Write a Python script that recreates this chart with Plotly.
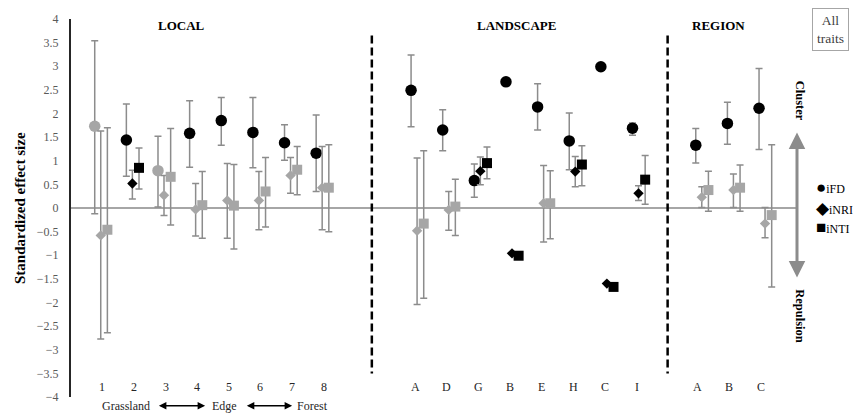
import numpy as np
import plotly.graph_objects as go

# ---------------- data ----------------
local_labels = ["1", "2", "3", "4", "5", "6", "7", "8"]
landscape_labels = ["A", "D", "G", "B", "E", "H", "C", "I"]
region_labels = ["A", "B", "C"]

# iFD
ifd_val = [1.73, 1.44, 0.79, 1.58, 1.85, 1.60, 1.38, 1.16,
           2.49, 1.65, 0.58, 2.67, 2.14, 1.42, 2.99, 1.69,
           1.33, 1.79, 2.11]
ifd_low = [-0.12, 0.67, 0.02, 0.86, 1.33, 0.85, 1.01, 0.35,
           1.72, 1.21, 0.23, None, 1.65, 0.81, None, 1.54,
           0.95, 1.35, 1.24]
ifd_up = [3.54, 2.20, 1.52, 2.27, 2.34, 2.34, 1.76, 1.97,
          3.24, 2.08, 0.93, None, 2.63, 2.01, None, 1.80,
          1.68, 2.24, 2.95]
ifd_sig = [0, 1, 0, 1, 1, 1, 1, 1,
           1, 1, 1, 1, 1, 1, 1, 1,
           1, 1, 1]

# iNRI
inri_val = [-0.58, 0.52, 0.27, -0.03, 0.16, 0.16, 0.69, 0.43,
            -0.48, -0.04, 0.78, -0.96, 0.10, 0.77, -1.60, 0.31,
            0.23, 0.38, -0.33]
inri_low = [-2.77, 0.19, -0.16, -0.59, -0.64, -0.46, 0.31, -0.46,
            -2.04, -0.47, 0.49, None, -0.72, 0.45, None, 0.16,
            0.01, 0.01, -0.63]
inri_up = [1.63, 0.80, 0.69, 0.52, 0.94, 0.77, 1.07, 1.30,
           1.06, 0.35, 1.08, None, 0.90, 1.09, None, 0.47,
           0.45, 0.72, 0.01]
inri_sig = [0, 1, 0, 0, 0, 0, 0, 0,
            0, 0, 1, 1, 0, 1, 1, 1,
            0, 0, 0]

# iNTI
inti_val = [-0.46, 0.85, 0.66, 0.06, 0.05, 0.35, 0.81, 0.43,
            -0.33, 0.03, 0.95, -1.01, 0.10, 0.92, -1.67, 0.60,
            0.38, 0.43, -0.15]
inti_low = [-2.64, 0.40, -0.36, -0.64, -0.87, -0.40, 0.28, -0.50,
            -1.91, -0.58, 0.62, None, -0.65, 0.47, None, 0.08,
            -0.07, -0.07, -1.67]
inti_up = [1.70, 1.27, 1.68, 0.77, 0.92, 1.07, 1.30, 1.34,
           1.21, 0.61, 1.29, None, 0.79, 1.32, None, 1.11,
           0.78, 0.91, 1.34]
inti_sig = [0, 1, 0, 0, 0, 0, 0, 0,
            0, 0, 1, 1, 0, 1, 1, 1,
            0, 0, 0]

y_ticks = [-4, -3.5, -3, -2.5, -2, -1.5, -1, -0.5, 0, 0.5, 1, 1.5, 2, 2.5, 3, 3.5, 4]

# ---------------- layout helpers ----------------
SERIF = "Liberation Serif, Times New Roman, serif"
BLACK = "#000000"
GREY = "#a6a6a6"
ERR = "#8c8c8c"

x_local = np.arange(1, 9)
x_land = np.arange(11, 19)
x_reg = np.arange(20, 23)
x_base = np.concatenate([x_local, x_land, x_reg]).astype(float)


def to_arr(lst):
    return np.array([np.nan if v is None else v for v in lst], dtype=float)


def err_arrays(val, low, up):
    v = to_arr(val)
    lo = to_arr(low)
    hi = to_arr(up)
    plus = np.where(np.isnan(hi), 0.0, hi - v)
    minus = np.where(np.isnan(lo), 0.0, v - lo)
    return plus, minus


fig = go.Figure()

series = [
    ("iFD", ifd_val, ifd_low, ifd_up, ifd_sig, "circle", 11.5, 0.0),
    ("iNRI", inri_val, inri_low, inri_up, inri_sig, "diamond", 8, 0.19),
    ("iNTI", inti_val, inti_low, inti_up, inti_sig, "square", 10, 0.40),
]

for name, val, low, up, sig, sym, size, off in series:
    plus, minus = err_arrays(val, low, up)
    colors = [BLACK if s else GREY for s in sig]
    fig.add_trace(go.Scatter(
        x=x_base + off, y=val, mode="markers", name=name, showlegend=False,
        marker=dict(symbol=sym, size=size, color=colors, line=dict(width=0)),
        error_y=dict(type="data", symmetric=False, array=plus, arrayminus=minus,
                     color=ERR, thickness=1.5, width=3.5),
        cliponaxis=False, hoverinfo="skip",
    ))

shapes = []
for xd in (9.76, 19.11):
    shapes.append(dict(type="line", xref="x", yref="y", x0=xd, x1=xd, y0=3.65, y1=-3.5,
                       line=dict(color=BLACK, width=2.5, dash="8px,4px")))

annotations = []
# section titles
for txt, xc in (("LOCAL", 3.75), ("LANDSCAPE", 14.34), ("REGION", 20.73)):
    annotations.append(dict(text="<b>%s</b>" % txt, x=xc, y=3.87, xref="x", yref="y",
                            xanchor="center", showarrow=False,
                            font=dict(family=SERIF, size=13, color=BLACK)))

# category labels
for labels, xs, off in ((local_labels, x_local, 0.24), (landscape_labels, x_land, 0.13),
                        (region_labels, x_reg, 0.05)):
    for lab, xv in zip(labels, xs):
        annotations.append(dict(text=lab, x=float(xv) + off, y=-3.79, xref="x", yref="y",
                                xanchor="center", showarrow=False,
                                font=dict(family=SERIF, size=12, color="#262626")))

# gradient labels (below the plotting area -> paper y)
GRAD_Y = -0.0234
for txt, xc in (("Grassland", 2.0), ("Edge", 5.11), ("Forest", 7.89)):
    annotations.append(dict(text=txt, x=xc, y=GRAD_Y, xref="x", yref="paper", showarrow=False,
                            xanchor="center", yanchor="middle",
                            font=dict(family=SERIF, size=12, color="#262626")))
for x0, x1 in ((2.98, 4.49), (5.76, 7.24)):
    annotations.append(dict(text="", x=x1, y=GRAD_Y, ax=x0, ay=0, xref="x", yref="paper",
                            axref="x", ayref="pixel", showarrow=True, arrowhead=2, arrowsize=1,
                            arrowwidth=1.5, arrowcolor=BLACK, arrowside="end+start", standoff=0,
                            startstandoff=0))

# y-axis title
annotations.append(dict(text="<b>Standardized effect size</b>", x=-0.0702, y=0, xref="paper",
                        yref="y", textangle=-90, showarrow=False, xanchor="center",
                        yanchor="middle", font=dict(family=SERIF, size=15, color=BLACK)))

# cluster / repulsion arrow
annotations.append(dict(text="", x=1.0, y=1.6, xref="paper", yref="y", ax=0, ay=-1.5,
                        axref="pixel", ayref="y", showarrow=True, arrowhead=2, arrowsize=1.1,
                        arrowwidth=3, arrowcolor="#8c8c8c", arrowside="end+start",
                        standoff=0, startstandoff=0))
annotations.append(dict(text="<b>Cluster</b>", x=1.0, xshift=3, y=(205 - 96) / 48, xref="paper",
                        yref="y", textangle=90, showarrow=False, xanchor="center",
                        yanchor="middle", font=dict(family=SERIF, size=12.5, color=BLACK)))
annotations.append(dict(text="<b>Repulsion</b>", x=1.0, xshift=3, y=(205 - 315) / 48,
                        xref="paper", yref="y", textangle=90, showarrow=False, xanchor="center",
                        yanchor="middle", font=dict(family=SERIF, size=12.5, color=BLACK)))

# legend (text)
for sym, name, yv in (("●", "iFD", 0.44), ("◆", "iNRI", 0.0), ("■", "iNTI", -0.42)):
    annotations.append(dict(text="<span style='font-size:17px'>%s</span>%s" % (sym, name),
                            x=1.0235, y=yv, xref="paper", yref="y", xanchor="left",
                            yanchor="middle", showarrow=False,
                            font=dict(family=SERIF, size=12, color=BLACK)))

# "All traits" box
annotations.append(dict(text="All<br>traits", x=1.0455, y=3.78, xref="paper", yref="y",
                        xanchor="center", yanchor="middle",
                        showarrow=False, bordercolor="#a6a6a6", borderwidth=1, borderpad=4,
                        font=dict(family=SERIF, size=13.5, color="#404040")))

fig.update_layout(
    width=853, height=417,
    margin=dict(l=71, r=56, t=13, b=20),
    paper_bgcolor="white", plot_bgcolor="white",
    font=dict(family=SERIF),
    shapes=shapes, annotations=annotations,
    hovermode=False,
    xaxis=dict(range=[0.25, 23.2], showgrid=False, zeroline=False, showticklabels=False,
               ticks="", showline=False, fixedrange=True),
    yaxis=dict(range=[-4, 4], tickvals=y_ticks, showgrid=False, zeroline=True,
               zerolinecolor="#a6a6a6", zerolinewidth=1.5, showline=True, linecolor="#262626",
               linewidth=2, ticks="", ticklabelstandoff=8, fixedrange=True,
               tickfont=dict(family=SERIF, size=12, color="#595959")),
)

fig.write_html("out.html", config={"displayModeBar": False},
               post_script="document.body.style.margin='0px';")
